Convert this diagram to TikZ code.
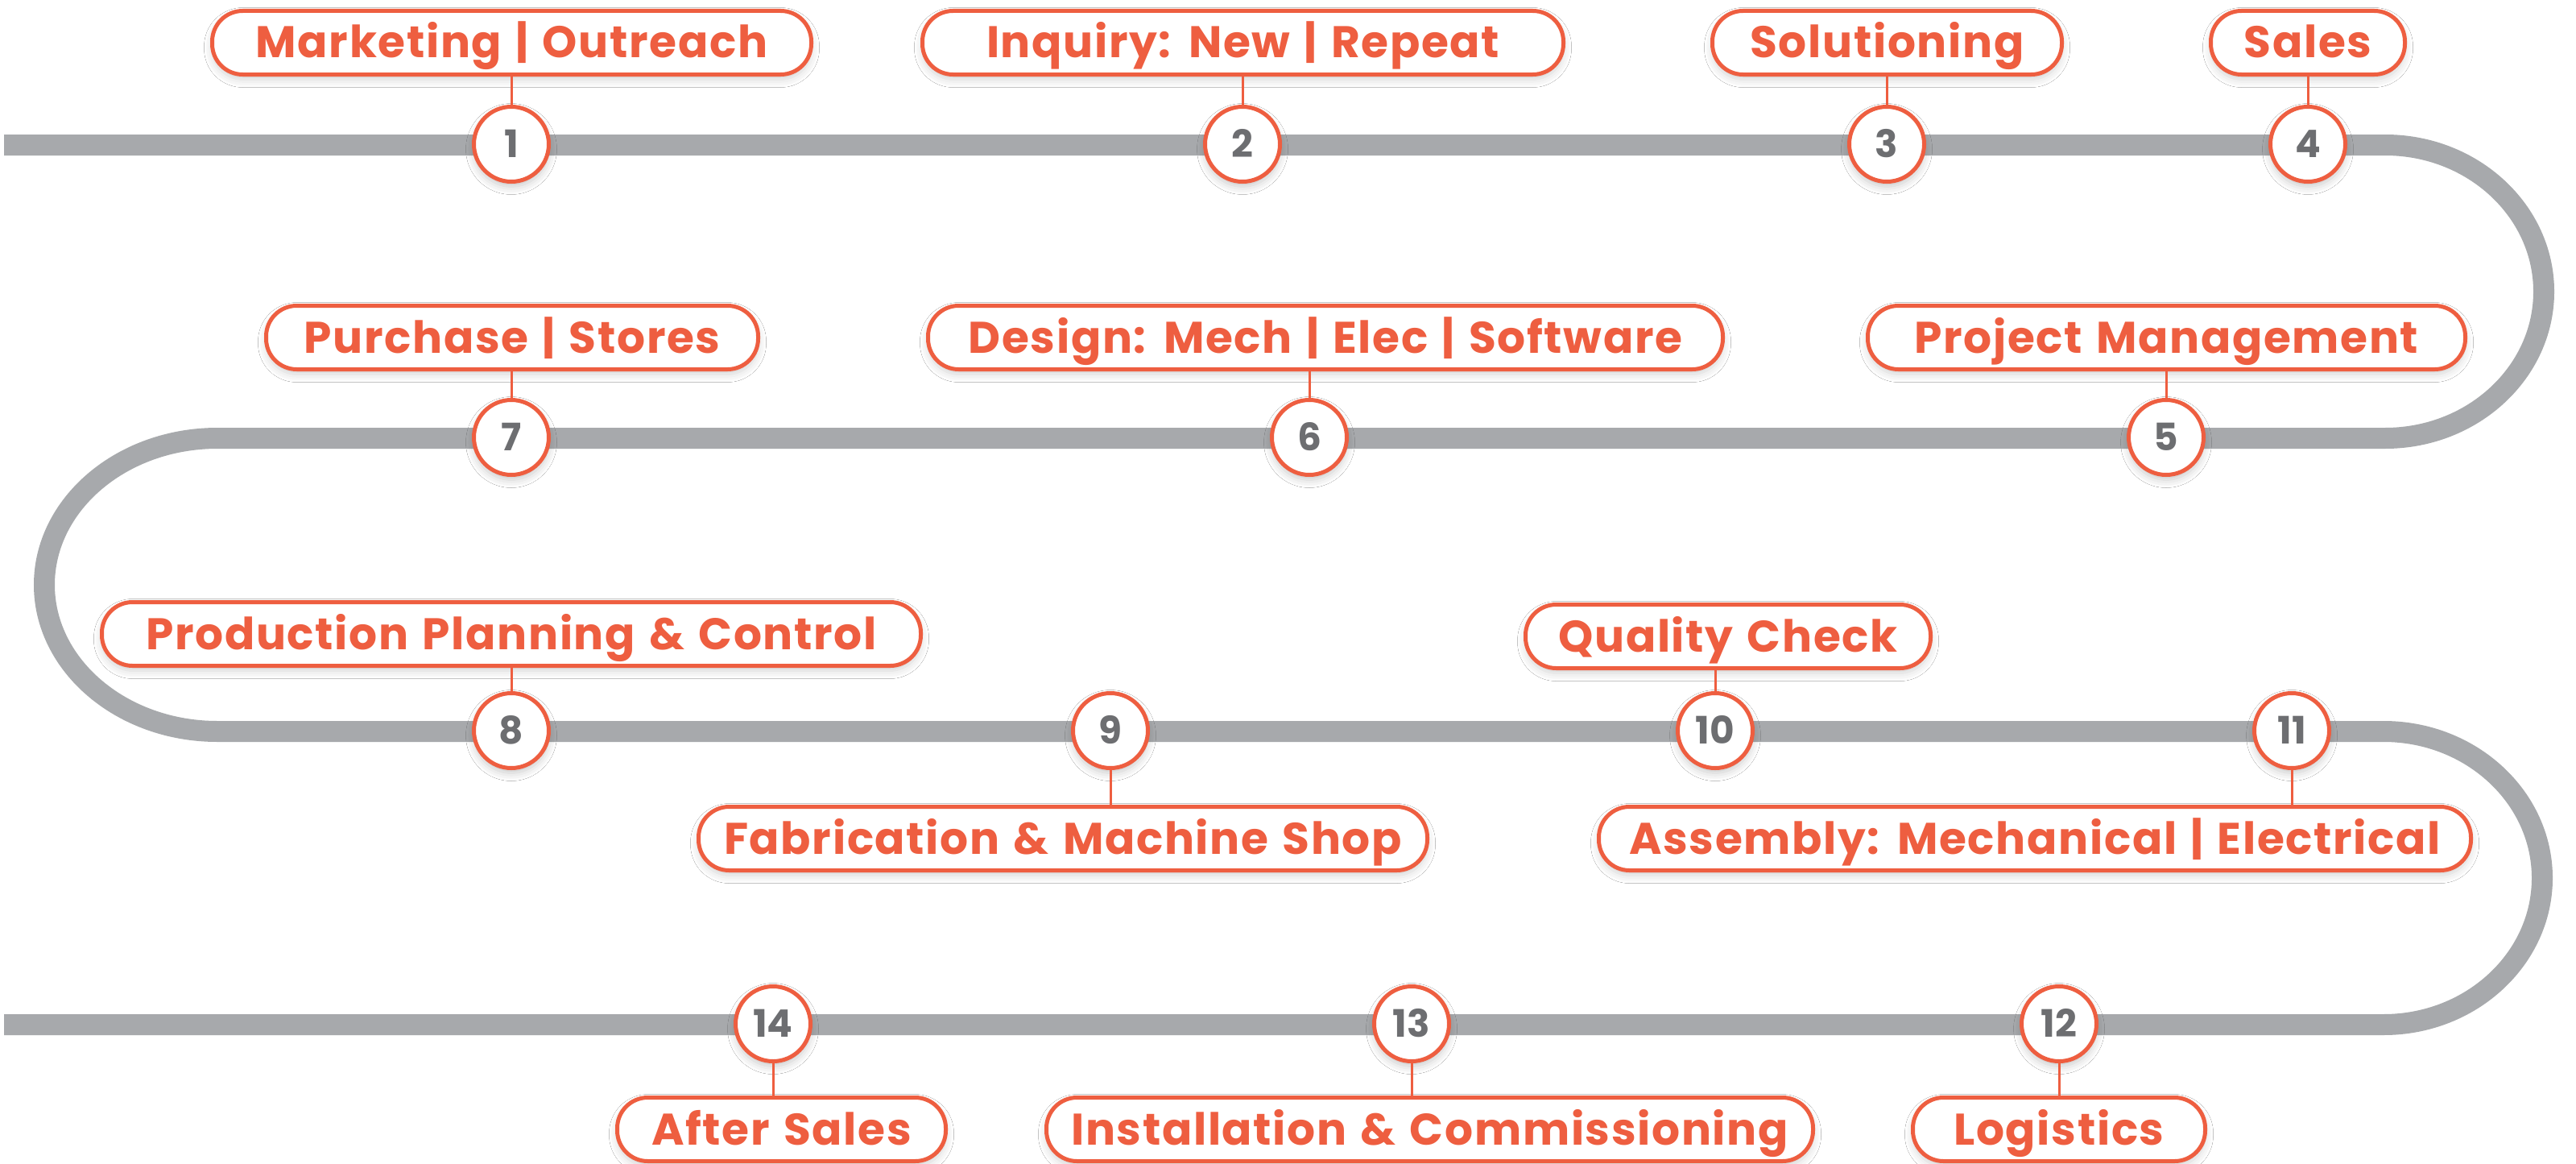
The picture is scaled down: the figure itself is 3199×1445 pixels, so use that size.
\documentclass[tikz,border=0pt]{standalone}
\usepackage{fontspec}
\setmainfont{Poppins}
\usetikzlibrary{shadows.blur}
\definecolor{org}{HTML}{EE5E40}
\definecolor{trk}{HTML}{A7A9AC}
\definecolor{numc}{HTML}{6D6E71}
\newfontfamily\labfont{Poppins}[LetterSpace=3.0, WordSpace=1.3]
\begin{document}
\begin{tikzpicture}[x=1pt,y=-1pt,
  lab/.style={draw=org, line width=5pt, fill=white, rounded corners=38pt,
    minimum height=79pt, inner sep=0pt, text=org,
    font=\labfont\fontsize{55}{60}\selectfont\bfseries, text height=38pt, text depth=0pt,
    blur shadow={shadow xshift=0pt, shadow yshift=-6pt, shadow blur radius=10pt, shadow opacity=18}},
  num/.style={circle, draw=org, line width=5pt, fill=white, minimum size=93pt,
    inner sep=0pt, text=numc, font=\fontsize{47}{50}\selectfont\bfseries,
    text height=33pt, text depth=0pt,
    blur shadow={shadow xshift=0pt, shadow yshift=-6pt, shadow blur radius=10pt, shadow opacity=22}},
  link/.style={draw=org, line width=3pt},
  track/.style={draw=trk, line width=26pt}]
\fill[white] (0,0) rectangle (3199,1445);
\useasboundingbox (0,0) rectangle (3199,1445);

% track
\draw[track] (5,180) -- (2962,180)
  .. controls (3071,180) and (3159,262) .. (3159,362)
  .. controls (3159,462) and (3071,544) .. (2962,544)
  -- (270,544)
  .. controls (151,544) and (55,626) .. (55,726)
  .. controls (55,826) and (151,908) .. (270,908)
  -- (2960,908)
  .. controls (3069,908) and (3157,990) .. (3157,1090)
  .. controls (3157,1190) and (3069,1272) .. (2960,1272)
  -- (5,1272);

% circles
\node[num] (c1) at (635,179) {1};
\node[num] (c2) at (1543,179) {2};
\node[num] (c3) at (2343,179) {3};
\node[num] (c4) at (2866,179) {4};
\node[num] (c5) at (2690,543) {5};
\node[num] (c6) at (1626,543) {6};
\node[num] (c7) at (635,543) {7};
\node[num] (c8) at (635,907) {8};
\node[num] (c9) at (1379,907) {9};
\node[num] (c10) at (2130,907) {10};
\node[num] (c11) at (2846,907) {11};
\node[num] (c12) at (2557,1271) {12};
\node[num] (c13) at (1753,1271) {13};
\node[num] (c14) at (960,1271) {14};

% labels
\node[lab, minimum width=744pt] (b1) at (635.5,53) {Marketing | Outreach};
\node[lab, minimum width=796pt] (b2) at (1543.5,53) {Inquiry: New | Repeat};
\node[lab, minimum width=434pt] (b3) at (2343.5,53) {Solutioning};
\node[lab, minimum width=241pt] (b4) at (2866,53) {Sales};
\node[lab, minimum width=742pt] (b5) at (2690.5,419) {Project Management};
\node[lab, minimum width=987pt] (b6) at (1646,419) {Design: Mech | Elec | Software};
\node[lab, minimum width=611pt] (b7) at (636,419) {Purchase | Stores};
\node[lab, minimum width=1017pt] (b8) at (635,787) {Production Planning \& Control};
\node[lab, minimum width=905pt] (b9) at (1320,1041) {Fabrication \& Machine Shop};
\node[lab, minimum width=503pt] (b10) at (2146,790) {Quality Check};
\node[lab, minimum width=1083pt] (b11) at (2527,1041) {Assembly: Mechanical | Electrical};
\node[lab, minimum width=363pt] (b12) at (2557,1402) {Logistics};
\node[lab, minimum width=952pt] (b13) at (1775.5,1402) {Installation \& Commissioning};
\node[lab, minimum width=408pt] (b14) at (970.5,1402) {After Sales};

% connectors
\foreach \i in {1,2,3,4,5,6,7,8,10}
  \draw[link] (b\i.south -| c\i) -- (c\i.north);
\foreach \i in {9,11,12,13,14}
  \draw[link] (c\i.south) -- (b\i.north -| c\i);
\end{tikzpicture}
\end{document}
